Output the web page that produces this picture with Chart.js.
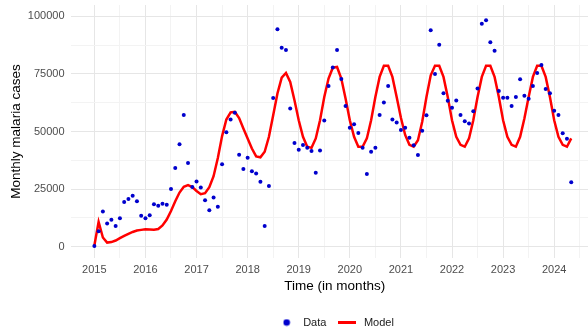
<!DOCTYPE html>
<html>
<head>
<meta charset="utf-8">
<style>
  html, body { margin: 0; padding: 0; background: #fff; overflow: hidden; }
  /* panel runs a little past the right edge of the window, like the source picture */
  #malariaChart { display: block; }
</style>
</head>
<body>
<canvas id="malariaChart" width="603" height="330"></canvas>

<script src="https://cdn.jsdelivr.net/npm/chart.js"></script>
<script>
    // monthly series, Jan 2015 .. May 2024
    const startYear = 2015;

    const dataCases = [
        300, 6700, 15300, 10100, 11700, 9000, 12300, 19400, 20700, 22100, 19700, 13400,
        12400, 13600, 18400, 17800, 18600, 18200, 25000, 34200, 44500, 57200, 36300, 25900,
        28300, 25700, 20200, 15800, 21400, 17300, 35800, 49700, 55200, 58100, 39900, 33700,
        38600, 32700, 31800, 28200, 9000, 26400, 64500, 94400, 86300, 85400, 60000, 45000,
        42100, 44100, 42900, 41500, 32100, 41800, 54800, 69800, 77800, 85400, 72800, 61100,
        51600, 53200, 49300, 42900, 31600, 41200, 42900, 57200, 62600, 69700, 55200, 53900,
        50600, 51600, 47300, 44000, 39800, 50300, 57000, 93900, 75000, 87600, 66600, 63300,
        60300, 63500, 57200, 54500, 53500, 58800, 68700, 96800, 98300, 88700, 85000, 67600,
        64600, 64600, 61100, 65000, 72700, 65500, 64200, 69700, 75400, 78900, 68400, 66600,
        59000, 57200, 49200, 46800, 28000
    ];

    const modelCases = [
        500, 10800, 4000, 1800, 2000, 2700, 3700, 4700, 5600, 6400, 7000, 7300,
        7600, 7500, 7400, 7700, 9200, 11800, 15500, 19700, 23500, 26000, 26700, 25900,
        24200, 22800, 23200, 25800, 30600, 38500, 48000, 55200, 58300, 58500, 55800, 51300,
        47000, 42600, 39200, 38800, 41200, 47700, 57100, 66500, 73400, 75400, 71500, 63600,
        54900, 47700, 43400, 42900, 47000, 54900, 65000, 73000, 77700, 78000, 73000, 64300,
        54900, 47700, 43400, 43400, 47000, 54900, 65000, 73700, 78500, 78500, 73700, 65000,
        56000, 48500, 44200, 43400, 46200, 54200, 65000, 74400, 78500, 78500, 73700, 65000,
        54900, 47700, 44200, 43400, 47000, 54900, 65000, 73700, 78500, 78500, 73700, 65000,
        54900, 47700, 44200, 43400, 47700, 55600, 65000, 73700, 78500, 78500, 73700, 65000,
        54900, 47700, 44200, 43400, 47000
    ];

    const yearTicks = [2015, 2016, 2017, 2018, 2019, 2020, 2021, 2022, 2023, 2024];
    const caseTicks = [0, 25000, 50000, 75000, 100000];

    const seriesNames = ['Data', 'Model'];

    function toPoints(values) {
        return values.map((v, i) => ({ x: startYear + i / 12, y: v }));
    }

    // major + minor (half way) grid positions
    const xGrid = [];
    yearTicks.forEach(y => { xGrid.push(y); xGrid.push(y + 0.5); });
    const yGrid = [];
    caseTicks.forEach((c, i) => {
        yGrid.push(c);
        if (i < caseTicks.length - 1) yGrid.push((c + caseTicks[i + 1]) / 2);
    });

    // small legend glyphs
    const dotIcon = document.createElement('canvas');
    dotIcon.width = 8; dotIcon.height = 8;
    let g = dotIcon.getContext('2d');
    g.fillStyle = '#0000CD';
    g.beginPath(); g.arc(4, 4, 3.3, 0, Math.PI * 2); g.fill();

    const lineIcon = document.createElement('canvas');
    lineIcon.width = 18; lineIcon.height = 3;
    g = lineIcon.getContext('2d');
    g.fillStyle = '#FF0000';
    g.fillRect(0, 0, 18, 3);

    const fontFamily = "'Liberation Sans', Arial, sans-serif";

    new Chart(document.getElementById('malariaChart'), {
        type: 'scatter',
        data: {
            datasets: [
                {
                    label: seriesNames[0],
                    data: toPoints(dataCases),
                    backgroundColor: '#0000CD',
                    borderColor: '#0000CD',
                    pointRadius: 2,
                    pointBorderWidth: 0,
                    showLine: false
                },
                {
                    label: seriesNames[1],
                    data: toPoints(modelCases),
                    borderColor: '#FF0000',
                    backgroundColor: '#FF0000',
                    borderWidth: 2.5,
                    pointRadius: 0,
                    showLine: true,
                    tension: 0
                }
            ]
        },
        options: {
            responsive: false,
            animation: false,
            devicePixelRatio: 1,
            layout: { padding: { top: 5, right: 0, left: 0, bottom: -8 } },
            plugins: {
                tooltip: { enabled: false },
                legend: {
                    position: 'bottom',
                    fullSize: false,
                    labels: {
                        usePointStyle: true,
                        pointStyleWidth: 22,
                        padding: 10,
                        color: '#1a1a1a',
                        font: { family: fontFamily, size: 11 },
                        generateLabels(chart) {
                            const items = Chart.defaults.plugins.legend.labels.generateLabels(chart);
                            items.forEach(it => {
                                it.pointStyle = it.datasetIndex === 0 ? dotIcon : lineIcon;
                            });
                            return items;
                        }
                    }
                }
            },
            scales: {
                x: {
                    type: 'linear',
                    min: 2014.533,
                    max: 2024.877,
                    afterBuildTicks(axis) { axis.ticks = xGrid.map(v => ({ value: v })); },
                    afterFit(axis) {
                        axis.height = 49;
                        axis.paddingLeft = 0;
                        axis.paddingRight = 0;
                    },
                    border: { display: false },
                    grid: {
                        drawTicks: false,
                        lineWidth: 1,
                        color: c => Number.isInteger(c.tick.value) ? '#e6e6e6' : '#f3f3f3'
                    },
                    ticks: {
                        padding: 5,
                        autoSkip: false,
                        maxRotation: 0,
                        color: '#4d4d4d',
                        font: { family: fontFamily, size: 11 },
                        callback: v => Number.isInteger(v) ? String(v) : ''
                    },
                    title: {
                        display: true,
                        text: 'Time (in months)',
                        color: '#000',
                        font: { family: fontFamily, size: 13.5 },
                        padding: { top: 0, bottom: 13 }
                    }
                },
                y: {
                    min: -4900,
                    max: 104900,
                    afterBuildTicks(axis) { axis.ticks = yGrid.map(v => ({ value: v })); },
                    afterFit(axis) {
                        axis.width = 70.5;
                        axis.paddingTop = 0;
                        axis.paddingBottom = 0;
                    },
                    border: { display: false },
                    grid: {
                        drawTicks: false,
                        lineWidth: 1,
                        color: c => caseTicks.includes(c.tick.value) ? '#e6e6e6' : '#f3f3f3'
                    },
                    ticks: {
                        padding: 6,
                        autoSkip: false,
                        color: '#4d4d4d',
                        font: { family: fontFamily, size: 11 },
                        callback: v => caseTicks.includes(v) ? String(v) : ''
                    },
                    title: {
                        display: true,
                        text: 'Monthly malaria cases',
                        color: '#000',
                        font: { family: fontFamily, size: 13.5 },
                        padding: { top: 8, bottom: 0 }
                    }
                }
            }
        }
    });
</script>
</body>
</html>
